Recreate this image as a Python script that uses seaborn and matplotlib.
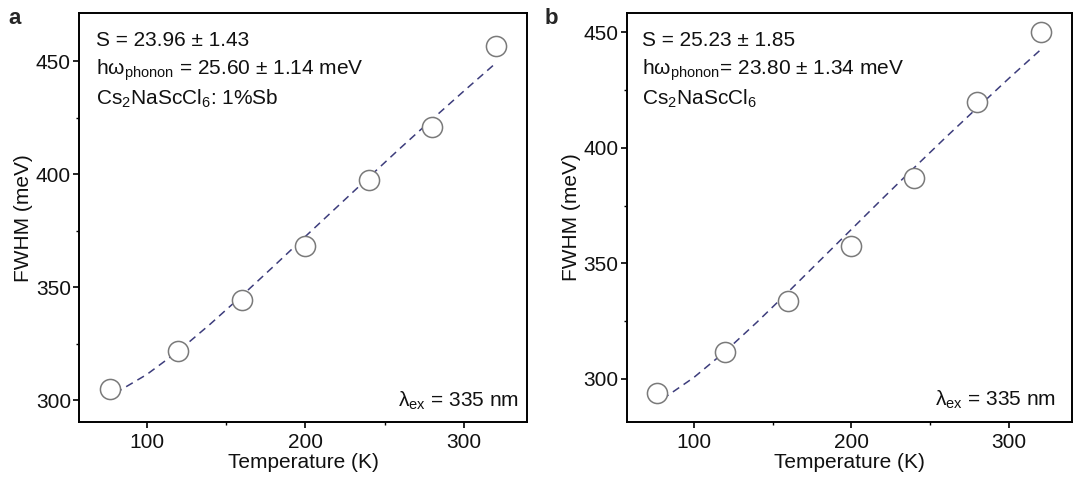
import numpy as np
import pandas as pd
import matplotlib
matplotlib.use("Agg")
import matplotlib.pyplot as plt
import seaborn as sns

# ---- data ----
temps = [77, 120, 160, 200, 240, 280, 320]
fwhm_a = [304.7, 321.6, 344.1, 368.0, 397.2, 420.8, 456.6]
fwhm_b = [293.8, 311.8, 333.9, 357.7, 386.8, 419.7, 450.0]

fit_t = [80, 100, 120, 140, 160, 180, 200, 220, 240, 260, 280, 300, 320]
fit_a = [303.0, 311.3, 321.7, 333.6, 346.2, 359.2, 372.4, 385.5, 398.6, 411.6, 424.3, 436.8, 449.1]
fit_b = [291.2, 300.6, 311.9, 324.5, 337.7, 351.2, 364.7, 378.2, 391.5, 404.6, 417.4, 430.1, 442.4]

panel_letters = ["a", "b"]
info_lines_a = ["S = 23.96 ± 1.43",
                "hω$_{\\mathregular{phonon}}$ = 25.60 ± 1.14 meV",
                "Cs$_{\\mathregular{2}}$NaScCl$_{\\mathregular{6}}$: 1%Sb"]
info_lines_b = ["S = 25.23 ± 1.85",
                "hω$_{\\mathregular{phonon}}$= 23.80 ± 1.34 meV",
                "Cs$_{\\mathregular{2}}$NaScCl$_{\\mathregular{6}}$"]
lambda_label = "λ$_{\\mathregular{ex}}$ = 335 nm"
xlabel = "Temperature (K)"
ylabel = "FWHM (meV)"

sns.set_theme(style="ticks")
plt.rcParams["font.family"] = ["Liberation Sans", "DejaVu Sans"]
plt.rcParams["mathtext.fontset"] = "custom"
plt.rcParams["mathtext.rm"] = "Liberation Sans"
plt.rcParams["axes.edgecolor"] = "black"

fig = plt.figure(figsize=(10.73, 4.79), dpi=100)
ax_a = fig.add_axes([0.0739, 0.1190, 0.4175, 0.8532])
ax_b = fig.add_axes([0.5841, 0.1196, 0.4147, 0.8526])

panels = [
    (ax_a, fwhm_a, fit_a, info_lines_a, (290.3, 471.1), 0.037, [0.921, 0.851, 0.778], 0.981, 0.037),
    (ax_b, fwhm_b, fit_b, info_lines_b, (281.5, 458.2), 0.034, [0.921, 0.851, 0.778], 0.965, 0.039),
]

line_color = "#3d3d7c"
for (ax, ys, fy, lines, ylim, tx, tys, lx, ly), letter in zip(panels, panel_letters):
    df_fit = pd.DataFrame({"T": fit_t, "F": fy})
    df_pts = pd.DataFrame({"T": temps, "F": ys})
    sns.lineplot(data=df_fit, x="T", y="F", ax=ax, color=line_color, lw=1.1,
                 linestyle=(0, (5, 3.5)), zorder=2)
    sns.scatterplot(data=df_pts, x="T", y="F", ax=ax, s=210, marker="o",
                    facecolor="white", edgecolor="#7a7a7a", linewidth=1.1, zorder=3)
    ax.set_xlim(57.5, 339.8)
    ax.set_ylim(*ylim)
    ax.set_xticks([100, 200, 300])
    ax.set_xticks([150, 250], minor=True)
    ax.set_yticks([300, 350, 400, 450])
    ax.set_yticks([325, 375, 425], minor=True)
    ax.tick_params(axis="both", which="major", direction="out", length=4,
                   width=1.2, labelsize=15, color="black", labelcolor="#111111")
    ax.tick_params(axis="x", which="major", pad=4)
    ax.tick_params(axis="y", which="major", pad=2)
    ax.tick_params(axis="both", which="minor", direction="out", length=2.5,
                   width=1.0, color="black")
    for sp in ax.spines.values():
        sp.set_visible(True)
        sp.set_linewidth(1.4)
        sp.set_color("black")
    ax.set_xlabel(xlabel, fontsize=15, labelpad=0.5, color="#111111")
    ax.set_ylabel(ylabel, fontsize=15, labelpad=2, color="#111111")
    for t, yy in zip(lines, tys):
        ax.text(tx, yy, t, transform=ax.transAxes, fontsize=15, va="baseline",
                ha="left", color="#111111")
    ax.text(lx, ly, lambda_label, transform=ax.transAxes, fontsize=15,
            va="baseline", ha="right", color="#111111")
    ax.grid(False)

fig.text(15 / 1073, 1 - 18 / 479, "a", fontsize=16, fontweight="bold", va="center", ha="center")
fig.text(551 / 1073, 1 - 18 / 479, "b", fontsize=16, fontweight="bold", va="center", ha="center")

fig.savefig("out.png", dpi=100)
